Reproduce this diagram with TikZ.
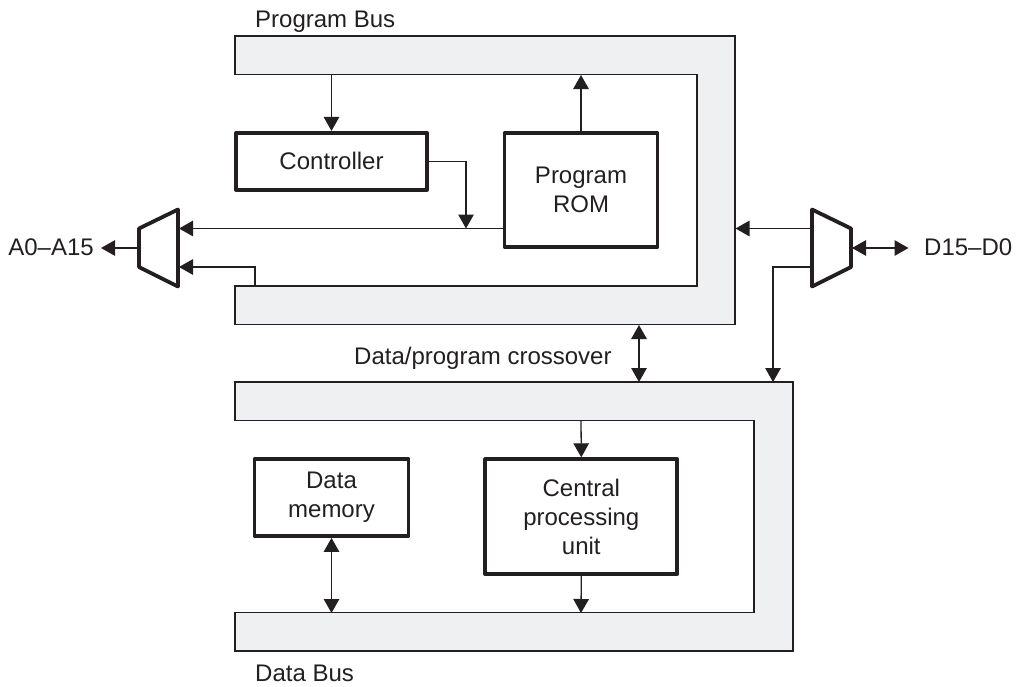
\documentclass[tikz,border=0pt]{standalone}
\usepackage{fontspec}
\setmainfont{Liberation Sans}
\usetikzlibrary{arrows.meta}
\definecolor{ink}{HTML}{231F20}
\definecolor{busfill}{HTML}{EFF0F2}
\tikzset{
  busshape/.style={draw=ink,fill=busfill,line width=1.3pt,line join=miter},
  block/.style={draw=ink,line width=3.8pt,line join=round,align=center,inner sep=0pt,text=ink,font=\fontsize{24pt}{29.2pt}\selectfont},
  muxshape/.style={draw=ink,line width=3.8pt,line join=round},
  lbl/.style={inner sep=0pt,text=ink,font=\fontsize{24pt}{29.2pt}\selectfont},
  wire/.style={draw=ink,line width=1.3pt},
  to/.style={wire,-{Triangle[length=14pt,width=15.5pt,color=ink]}},
  both/.style={wire,{Triangle[length=14pt,width=15.5pt,color=ink]}-{Triangle[length=14pt,width=15.5pt,color=ink]}}
}
\begin{document}
\begin{tikzpicture}[x=1pt,y=-1pt]
\useasboundingbox (0,0) rectangle (1019,686);
% Program bus outline
\coordinate (pb1) at (235,36);
\coordinate (pb2) at (735,36);
\coordinate (pb3) at (735,324.5);
\coordinate (pb4) at (235,324.5);
\coordinate (pb5) at (235,286);
\coordinate (pb6) at (697,286);
\coordinate (pb7) at (697,74.5);
\coordinate (pb8) at (235,74.5);
\draw[busshape] (pb1)--(pb2)--(pb3)--(pb4)--(pb5)--(pb6)--(pb7)--(pb8)--cycle;
% Data bus outline
\coordinate (db1) at (235,382);
\coordinate (db2) at (793,382);
\coordinate (db3) at (793,651);
\coordinate (db4) at (235,651);
\coordinate (db5) at (235,612.5);
\coordinate (db6) at (754,612.5);
\coordinate (db7) at (754,420.5);
\coordinate (db8) at (235,420.5);
\draw[busshape] (db1)--(db2)--(db3)--(db4)--(db5)--(db6)--(db7)--(db8)--cycle;
% Blocks
\node[block,minimum width=191pt,minimum height=57pt] (ctrl) at (331.5,161.3) {Controller};
\node[block,minimum width=153pt,minimum height=114pt] (rom) at (581,190) {Program\\ROM};
\node[block,minimum width=154pt,minimum height=77pt] (mem) at (331.5,497.5) {Data\\memory};
\node[block,minimum width=192pt,minimum height=115pt] (cpu) at (581.3,516.7) {Central\\processing\\unit};
% Multiplexers
\coordinate (lm1) at (178,209.5);
\coordinate (lm2) at (178,286.5);
\coordinate (lm3) at (139,267);
\coordinate (lm4) at (139,228.5);
\draw[muxshape] (lm1)--(lm2)--(lm3)--(lm4)--cycle;
\coordinate (rm1) at (812,209.5);
\coordinate (rm2) at (851,228.5);
\coordinate (rm3) at (851,267);
\coordinate (rm4) at (812,286.5);
\draw[muxshape] (rm1)--(rm2)--(rm3)--(rm4)--cycle;
% Connector anchors
\coordinate (lmA) at (179,228.5);
\coordinate (lmB) at (179,267);
\coordinate (lmO) at (139,248);
\coordinate (rmA) at (812,228.5);
\coordinate (rmB) at (812,267);
\coordinate (rmO) at (852,248);
\coordinate (pbLow) at (255,286);
\coordinate (pbTop) at (331.5,75);
\coordinate (pbRom) at (581,75);
\coordinate (pbRight) at (735.5,228.5);
\coordinate (pbCross) at (639,325);
\coordinate (dbCross) at (639,382);
\coordinate (dbFeed) at (773,382);
\coordinate (dbTopIn) at (581,420.5);
\coordinate (dbLowCpu) at (581,613);
\coordinate (dbLowMem) at (331.5,613);
\coordinate (join) at (466,228.5);
\coordinate (aEnd) at (101,248);
\coordinate (dEnd) at (908.5,248);
% Connectors
\draw[to] (pbTop) -- (ctrl.north);
\draw[to] (rom.north) -- (pbRom);
\draw[to] (ctrl.east) -| (join);
\draw[to] (rom.west |- lmA) -- (lmA);
\draw[to] (pbLow) |- (lmB);
\draw[to] (lmO) -- (aEnd);
\draw[to] (rmA) -- (pbRight);
\draw[to] (rmB) -| (dbFeed);
\draw[both] (rmO) -- (dEnd);
\draw[both] (pbCross) -- (dbCross);
\draw[to] (dbTopIn) -- (cpu.north);
\draw[to] (cpu.south) -- (dbLowCpu);
\draw[both] (mem.south) -- (dbLowMem);
% Labels
\node[lbl,anchor=base west] (lpb) at (255,27) {Program Bus};
\node[lbl,anchor=base west] (ldb) at (255,681) {Data Bus};
\node[lbl,anchor=base west] (lcr) at (354,364.5) {Data/program crossover};
\node[lbl,anchor=base east] (la) at (94,255) {A0–A15};
\node[lbl,anchor=base west] (ld) at (924,255) {D15–D0};
\end{tikzpicture}
\end{document}
